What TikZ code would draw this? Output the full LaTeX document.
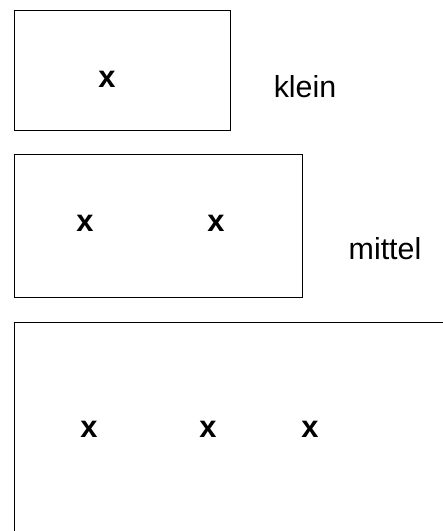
\documentclass[tikz,border=0pt]{standalone}
\usepackage{fontspec}
\setmainfont{Liberation Sans}
\begin{document}
\begin{tikzpicture}[x=1bp,y=-1bp,
  frame/.style={draw,line width=1.3bp,minimum width=#1,inner sep=0pt,anchor=north west},
  mark x/.style={font=\fontsize{31}{30}\selectfont\bfseries},
  lbl/.style={font=\fontsize{30.5}{30}\selectfont}]
\useasboundingbox (0,0) rectangle (443,531);
\clip (0,0) rectangle (443,531);
\node[frame=216bp,minimum height=120bp] (b1) at (14,10) {};
\node[frame=288bp,minimum height=143bp] (b2) at (14,154) {};
\node[frame=460bp,minimum height=240bp] (b3) at (14,322) {};
\node[mark x] (x1) at (107,79) {x};
\node[mark x] (x2) at (85,223) {x};
\node[mark x] (x3) at (216,223) {x};
\node[mark x] (x4) at (89,429) {x};
\node[mark x] (x5) at (208,429) {x};
\node[mark x] (x6) at (310,429) {x};
\node[lbl] (k) at (305,87) {klein};
\node[lbl] (m) at (385,249) {mittel};
\end{tikzpicture}
\end{document}
